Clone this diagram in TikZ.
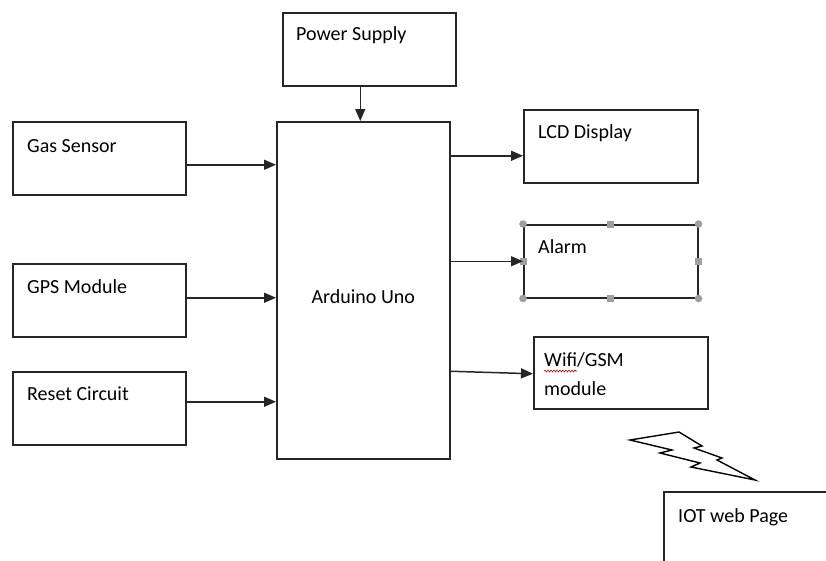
\documentclass[tikz,border=0pt]{standalone}
\usepackage{fontspec}
\setmainfont{Carlito}
\usetikzlibrary{positioning, calc, arrows.meta, decorations.pathmorphing}

\begin{document}
\begin{tikzpicture}[
    x=1pt, y=-1pt,
    unit/.style={rectangle, draw=black!85, line width=1.5pt, minimum width=173pt,
                 minimum height=73pt, anchor=north west, inner sep=0pt},
    caption/.style={anchor=base west, inner sep=0pt,
                    font=\fontsize{20}{29}\selectfont},
    arrow/.style={-{Triangle[length=12pt, width=10pt]}, line width=1.5pt, black!85},
    handle/.style={fill=gray!75, draw=none},
    spell/.style={red!80!black, line width=0.6pt, decorate,
                  decoration={snake, amplitude=0.9pt, segment length=3pt}},
    bolt/.style={draw=black, line width=1.4pt, line join=miter}
  ]
    \useasboundingbox (0,0) rectangle (826,560);
    \clip (0,0) rectangle (826,560);

    % Centre: controller
    \node[unit, minimum height=337pt] (ard) at (276,121) {};
    \node[caption, anchor=base] (ardlbl) at ([yshift=-13.5pt]ard.center) {Arduino Uno};

    % Top: supply
    \node[unit] (pwr) at (282,12) {};
    \node[caption] (pwrlbl) at ([shift={(14,28)}]pwr.north west) {Power Supply};

    % Left column: inputs
    \node[unit] (gas) at (12,121) {};
    \node[caption] (gaslbl) at ([shift={(15,31)}]gas.north west) {Gas Sensor};
    \node[unit] (gps) at (12,263) {};
    \node[caption] (gpslbl) at ([shift={(15,30)}]gps.north west) {GPS Module};
    \node[unit] (rst) at (12,371) {};
    \node[caption] (rstlbl) at ([shift={(15,29)}]rst.north west) {Reset Circuit};

    % Right column: outputs
    \node[unit, minimum width=174pt] (lcd) at (523,109) {};
    \node[caption] (lcdlbl) at ([shift={(15,29)}]lcd.north west) {LCD Display};
    \node[unit, minimum width=174pt] (alarm) at (523,224) {};
    \node[caption] (alarmlbl) at ([shift={(15,29)}]alarm.north west) {Alarm};
    \node[unit, minimum width=174pt, minimum height=72pt] (wifi) at (533,336) {};
    \node[caption] (wifilbl) at ([shift={(11,30)}]wifi.north west) {Wifi/GSM};
    \node[caption] (wifimod) at ([yshift=-29pt]wifilbl.base west) {module};
    \draw[spell] ([yshift=-5pt]wifilbl.base west) -- ++(33,0);

    % Remote end, running off the page
    \node[unit, minimum width=240pt, minimum height=90pt] (iot) at (663,491) {};
    \node[caption] (iotlbl) at ([shift={(15,31)}]iot.north west) {IOT web Page};

    % Selection handles on the alarm box
    \foreach \corner in {north west, north east, south west, south east}
      \fill[handle] (alarm.\corner) circle (3.8pt);
    \foreach \side in {north, south, east, west}
      \fill[handle] ([shift={(-3.5pt,-3.5pt)}]alarm.\side) rectangle ++(7pt,7pt);

    % Wireless link
    \draw[bolt] (630,440) -- (679,432) -- (702,446) -- (694,448) -- (722,458)
      -- (717,460) -- (755,480) -- (691,467) -- (700,463) -- (660,453)
      -- (672,450) -- cycle;

    % Connections
    \draw[arrow] ([xshift=-9pt]pwr.south) -- ([xshift=-9pt]pwr.south |- ard.north);
    \draw[arrow] ([yshift=-6.5pt]gas.east) -- ([yshift=-6.5pt]gas.east -| ard.west);
    \draw[arrow] ([yshift=2.5pt]gps.east) -- ([yshift=2.5pt]gps.east -| ard.west);
    \draw[arrow] ([yshift=6.5pt]rst.east) -- ([yshift=6.5pt]rst.east -| ard.west);
    \draw[arrow] ([yshift=-9.5pt]lcd.west -| ard.east) -- ([yshift=-9.5pt]lcd.west);
    \draw[arrow] (alarm.west -| ard.east) -- (alarm.west);
    \draw[arrow] ([yshift=1.5pt]wifi.west -| ard.east) -- ([yshift=-1pt]wifi.west);
\end{tikzpicture}
\end{document}
